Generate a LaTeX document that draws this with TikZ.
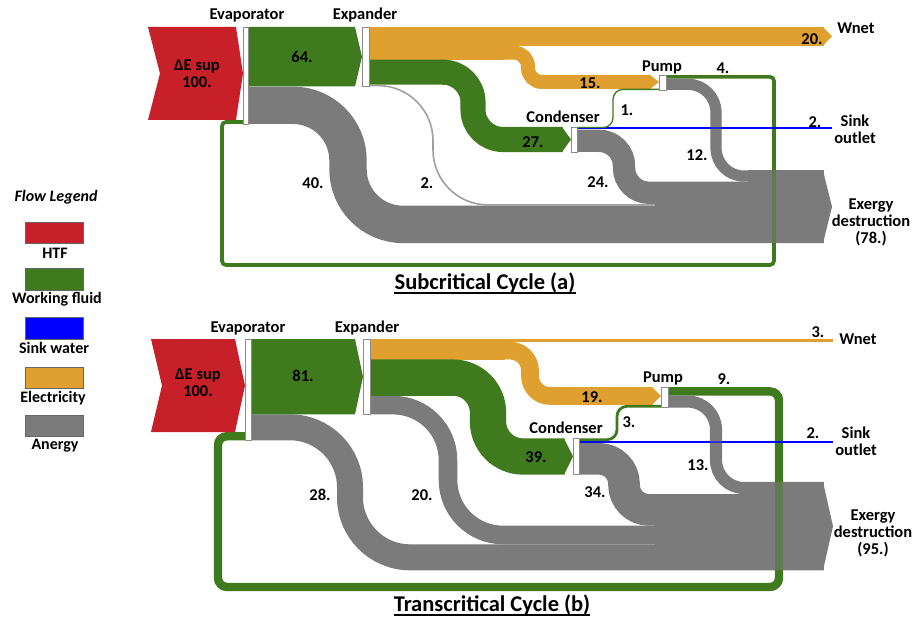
\documentclass[tikz,border=0pt]{standalone}
\usepackage{fontspec}
\setmainfont{Carlito}
\definecolor{htf}{RGB}{200,32,40}
\definecolor{wf}{RGB}{64,122,30}
\definecolor{elec}{RGB}{224,160,48}
\definecolor{anergy}{RGB}{123,123,123}
\definecolor{thinc}{RGB}{160,160,160}
\definecolor{sinkc}{RGB}{0,0,255}
\definecolor{barc}{RGB}{140,140,140}
\begin{document}
\begin{tikzpicture}[x=1pt,y=-1pt,
  lbl/.style={font=\bfseries\fontsize{16.5}{17}\selectfont, inner sep=0pt, align=center},
  leglbl/.style={font=\bfseries\fontsize{16}{17}\selectfont, inner sep=0pt},
  ttl/.style={font=\bfseries\fontsize{22.5}{26}\selectfont, inner sep=0pt, anchor=base},
  bar/.style={draw=barc, fill=white, line width=0.8},
  legbox/.style={draw=black!60, line width=0.6},
  wfband/.style={draw=wf, line width=#1},
  elband/.style={draw=elec, line width=#1},
  anband/.style={draw=anergy, line width=#1},
]
\useasboundingbox (0,0) rectangle (912,620);
\fill[white] (0,0) rectangle (912,620);

% ================= (a) Subcritical =================
\draw[wfband=3.7, rounded corners=4] (666,76.9) -- (774,76.9) -- (774,265) -- (222,265) -- (222,122) -- (244,122);
\draw[sinkc, line width=1.6] (577,128) -- (832,128);
\draw[draw=thinc, line width=1.6, rounded corners=55] (368,85.6) -- (433,85.6) -- (433,204.9) -- (800,204.9);
\draw[anband=37.4, rounded corners=55] (247,105.3) -- (348,105.3) -- (348,224.4) -- (823.5,224.4);
\draw[anband=22.3, rounded corners=25] (576,140.8) -- (624,140.8) -- (624,192.8) -- (823.5,192.8);
\draw[anband=11.2, rounded corners=28] (665,84.3) -- (716,84.3) -- (716,176.1) -- (823.5,176.1);
\fill[anergy] (748,170.5) rectangle (823.5,243.1);
\fill[anergy] (655,181.7) rectangle (748.5,243.1);
\fill[anergy] (823,170.5) -- (832,206.8) -- (823,243.1) -- cycle;
\draw[wfband=3.7, opacity=0.45] (774,166) -- (774,248);
\draw[sinkc, line width=1.6, opacity=0.7] (705,128) -- (728,128);
\draw[elband=18.6] (368,36.3) -- (823.5,36.3);
\fill[elec] (823,27) -- (832,36.3) -- (823,45.6) -- cycle;
\draw[elband=14, rounded corners=14] (368,52.6) -- (528,52.6) -- (528,82) -- (650.5,82);
\fill[elec] (368,27) rectangle (505,59.6);
\fill[elec] (650,75) -- (659,82) -- (650,89) -- cycle;
\draw[wfband=25.1, rounded corners=30] (368,72.2) -- (473,72.2) -- (473,139.5) -- (562.5,139.5);
\fill[wf] (562,127) -- (571,139.5) -- (562,152) -- cycle;
\draw[wfband=1.3, rounded corners=10] (577,127.6) -- (613,127.6) -- (613,89.4) -- (659,89.4);
\fill[wf] (247,27) -- (355,27) -- (362,56.8) -- (355,86.5) -- (247,86.5) -- cycle;
\fill[htf] (148,27) -- (236,27) -- (243,73.5) -- (236,120) -- (148,120) -- (160,73.5) -- cycle;
\draw[bar] (243,27) rectangle (248,124);
\draw[bar] (362,27) rectangle (369,86.5);
\draw[bar] (571,127) rectangle (577,152);
\draw[bar] (659,75) rectangle (666,90);
\node[lbl] (evapA) at (247,15) {Evaporator};
\node[lbl] (expA) at (365,15) {Expander};
\node[lbl] (htfA) at (197,73.5) {ΔE sup\\100.};
\node[lbl] (w64) at (302,57) {64.};
\node[lbl] (v40) at (313,183) {40.};
\node[lbl] (v2a) at (427,183) {2.};
\node[lbl] (v27) at (533,142) {27.};
\node[lbl] (condA) at (563,117) {Condenser};
\node[lbl] (v1a) at (627,110) {1.};
\node[lbl] (pumpA) at (662,67) {Pump};
\node[lbl] (v15) at (590,83) {15.};
\node[lbl] (v4) at (723,68) {4.};
\node[lbl] (v12) at (697,155) {12.};
\node[lbl] (v24) at (598,182) {24.};
\node[lbl] (v20a) at (812,39) {20.};
\node[lbl] (wnetA) at (856,28) {Wnet};
\node[lbl] (v2sa) at (815,122) {2.};
\node[lbl] (sinkA) at (855,129) {Sink\\outlet};
\node[lbl] (edA) at (871,222) {Exergy\\destruction\\(78.)};
\node[ttl] (titleA) at (485,289) {Subcritical Cycle (a)};
\draw[line width=1.4] ([yshift=-4pt]titleA.base west) -- ([yshift=-4pt]titleA.base east);

% ================= (b) Transcritical =================
\draw[wfband=8.4, rounded corners=9] (668,391.4) -- (779,391.4) -- (779,587) -- (218,587) -- (218,436.2) -- (246,436.2);
\draw[sinkc, line width=1.9] (579,442) -- (833,442);
\draw[anband=26, rounded corners=60] (250,427.3) -- (350,427.3) -- (350,557.3) -- (823.5,557.3);
\draw[anband=18.6, rounded corners=55] (369,405.1) -- (448,405.1) -- (448,535) -- (823.5,535);
\draw[anband=31.6, rounded corners=25] (578,458.8) -- (624,458.8) -- (624,509.9) -- (823.5,509.9);
\draw[anband=12.1, rounded corners=28] (667,401.6) -- (716,401.6) -- (716,488) -- (823.5,488);
\fill[anergy] (748,482) rectangle (823.5,570.4);
\fill[anergy] (655,494.1) rectangle (748.5,570.4);
\fill[anergy] (823,482) -- (833,526.2) -- (823,570.4) -- cycle;
\draw[wfband=8.4, opacity=0.45] (779,476) -- (779,576);
\draw[sinkc, line width=1.9, opacity=0.6] (705,442) -- (728,442);
\draw[elband=2.8] (368,340.4) -- (833,340.4);
\draw[elband=17.7, rounded corners=20] (368,350.6) -- (530,350.6) -- (530,396) -- (652.5,396);
\fill[elec] (368,339) rectangle (505,359.5);
\fill[elec] (652,387.2) -- (661,396) -- (652,404.8) -- cycle;
\draw[wfband=36.3, rounded corners=35] (368,377.6) -- (488,377.6) -- (488,456.5) -- (564.5,456.5);
\fill[wf] (564,438.3) -- (573,456.5) -- (564,474.6) -- cycle;
\draw[wfband=2.8, rounded corners=10] (579,439.7) -- (617,439.7) -- (617,406.3) -- (661,406.3);
\fill[wf] (250,339) -- (355,339) -- (363,376.7) -- (355,414.3) -- (250,414.3) -- cycle;
\fill[htf] (151,339) -- (235,339) -- (245,385.5) -- (235,432) -- (151,432) -- (162,385.5) -- cycle;
\draw[bar] (245,339) rectangle (251,440.3);
\draw[bar] (363,339) rectangle (370,414.3);
\draw[bar] (573,438.3) rectangle (579,474.6);
\draw[bar] (661,387.2) rectangle (668,407.7);
\node[lbl] (evapB) at (248,328) {Evaporator};
\node[lbl] (expB) at (367,328) {Expander};
\node[lbl] (htfB) at (198,383) {ΔE sup\\100.};
\node[lbl] (v81) at (303,376) {81.};
\node[lbl] (v28) at (320,495) {28.};
\node[lbl] (v20b) at (422,495) {20.};
\node[lbl] (v39) at (536,457) {39.};
\node[lbl] (condB) at (566,428) {Condenser};
\node[lbl] (v3b) at (629,422) {3.};
\node[lbl] (pumpB) at (663,378) {Pump};
\node[lbl] (v19) at (592,397) {19.};
\node[lbl] (v9) at (724,379) {9.};
\node[lbl] (v13) at (698,465) {13.};
\node[lbl] (v34) at (595,492) {34.};
\node[lbl] (v3w) at (818,332) {3.};
\node[lbl] (wnetB) at (858,339) {Wnet};
\node[lbl] (v2sb) at (813,433) {2.};
\node[lbl] (sinkB) at (856,441) {Sink\\outlet};
\node[lbl] (edB) at (873,533) {Exergy\\destruction\\(95.)};
\node[ttl] (titleB) at (492,611) {Transcritical Cycle (b)};
\draw[line width=1.4] ([yshift=-4pt]titleB.base west) -- ([yshift=-4pt]titleB.base east);

% ================= legend =================
\node[font=\bfseries\itshape\fontsize{16}{17}\selectfont, inner sep=0pt] (legT) at (56,197) {Flow Legend};
\draw[legbox, fill=htf] (25,222) rectangle (83,243);
\node[leglbl] (lg1) at (55,253) {HTF};
\draw[legbox, fill=wf] (25,268) rectangle (83,290);
\node[leglbl] (lg2) at (57,299) {Working fluid};
\draw[legbox, fill=sinkc] (25,317) rectangle (83,339);
\node[leglbl] (lg3) at (54,348) {Sink water};
\draw[legbox, fill=elec] (25,367) rectangle (83,388);
\node[leglbl] (lg4) at (53,398) {Electricity};
\draw[legbox, fill=anergy] (25,415) rectangle (83,436);
\node[leglbl] (lg5) at (55,446) {Anergy};
\end{tikzpicture}
\end{document}
